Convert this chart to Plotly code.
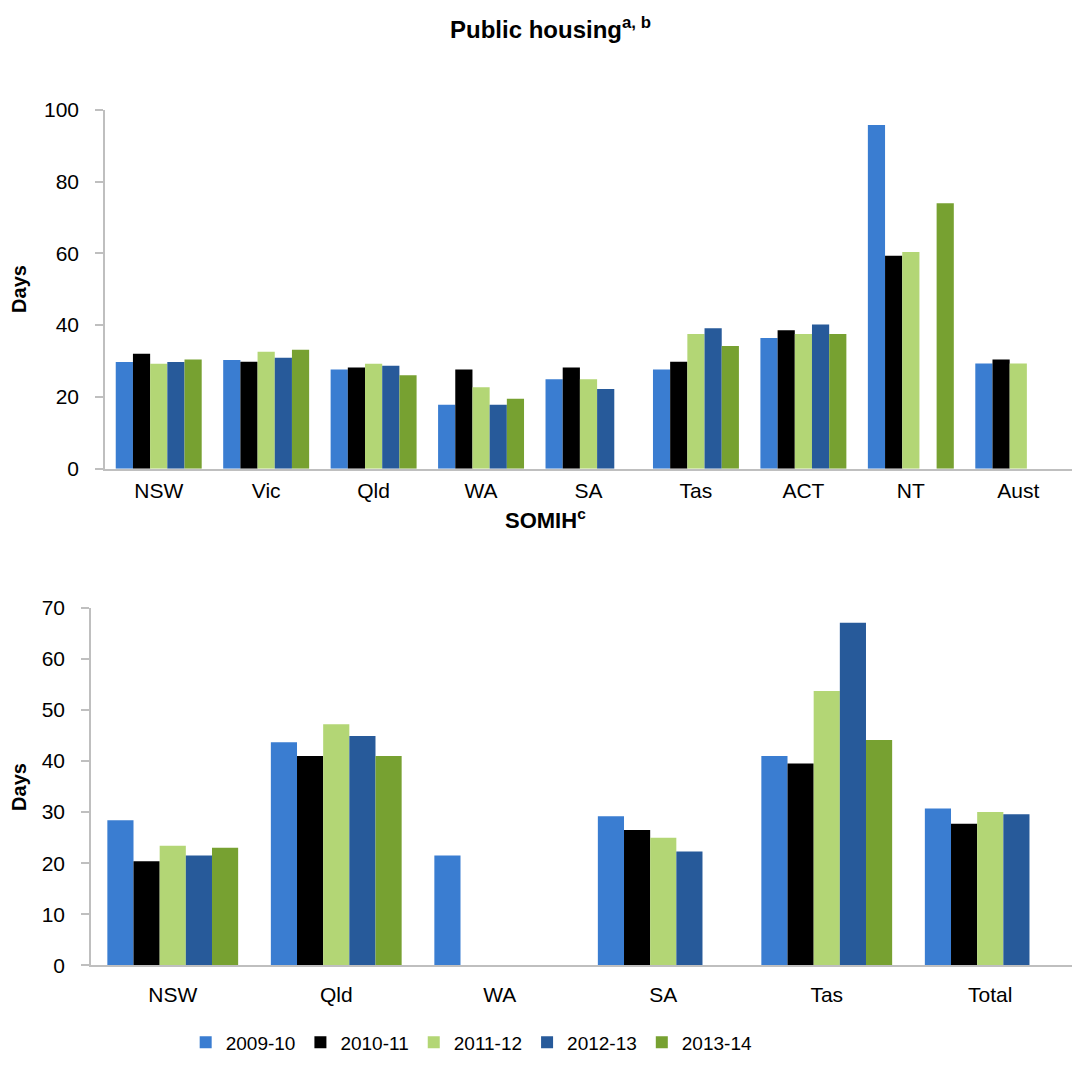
import plotly.graph_objects as go

# Public housing: average turnaround days by jurisdiction
ph_categories = ["NSW", "Vic", "Qld", "WA", "SA", "Tas", "ACT", "NT", "Aust"]
ph_2009_10 = [29.7, 30.3, 27.6, 17.8, 24.9, 27.6, 36.4, 95.8, 29.3]
ph_2010_11 = [32.0, 29.8, 28.2, 27.6, 28.2, 29.8, 38.6, 59.3, 30.4]
ph_2011_12 = [29.2, 32.6, 29.2, 22.7, 24.9, 37.5, 37.5, 60.4, 29.3]
ph_2012_13 = [29.7, 30.9, 28.7, 17.8, 22.2, 39.1, 40.2, None, None]
ph_2013_14 = [30.4, 33.1, 26.0, 19.5, None, 34.2, 37.5, 74.0, None]

# SOMIH: average turnaround days by jurisdiction
somih_categories = ["NSW", "Qld", "WA", "SA", "Tas", "Total"]
somih_2009_10 = [28.4, 43.7, 21.5, 29.2, 41.0, 30.7]
somih_2010_11 = [20.4, 41.0, None, 26.5, 39.5, 27.7]
somih_2011_12 = [23.4, 47.2, None, 25.0, 53.7, 30.0]
somih_2012_13 = [21.5, 44.9, None, 22.3, 67.1, 29.6]
somih_2013_14 = [23.0, 41.0, None, None, 44.1, None]

years = ["2009-10", "2010-11", "2011-12", "2012-13", "2013-14"]
colors = ["#3A7DD1", "#000000", "#B3D675", "#275A9A", "#77A131"]

ph_series = [ph_2009_10, ph_2010_11, ph_2011_12, ph_2012_13, ph_2013_14]
somih_series = [somih_2009_10, somih_2010_11, somih_2011_12, somih_2012_13, somih_2013_14]

FONT = "Arial, 'Liberation Sans', sans-serif"
W, H = 1072, 1067

fig = go.Figure()
for name, color, vals in zip(years, colors, ph_series):
    fig.add_trace(go.Bar(x=ph_categories, y=vals, name=name, marker_color=color,
                         marker_line_width=0, xaxis="x", yaxis="y",
                         legendgroup=name, showlegend=True))
for name, color, vals in zip(years, colors, somih_series):
    fig.add_trace(go.Bar(x=somih_categories, y=vals, name=name, marker_color=color,
                         marker_line_width=0, xaxis="x2", yaxis="y2",
                         legendgroup=name, showlegend=False))


def px_x(p):
    return p / W


def px_y(p):
    return 1 - p / H


axis_common = dict(showline=True, linecolor="#BFBFBF", linewidth=1.5,
                   showgrid=False, zeroline=False,
                   tickfont=dict(family=FONT, size=21, color="#000000"))

bold_title = dict(family=FONT, size=24, weight="bold", color="#000000")
bold_axis = dict(family=FONT, size=20, weight="bold", color="#000000")

fig.update_layout(
    width=W, height=H,
    margin=dict(l=0, r=0, t=0, b=0),
    paper_bgcolor="white", plot_bgcolor="white",
    barmode="group", bargap=0.2, bargroupgap=0,
    font=dict(family=FONT, color="#000000"),
    xaxis=dict(domain=[px_x(105), 1.0], anchor="y", ticks="",
               ticklabelstandoff=2, **axis_common),
    yaxis=dict(domain=[px_y(466.7), px_y(100)], anchor="x", range=[0, 100],
               tickvals=[0, 20, 40, 60, 80, 100], ticks="outside", ticklen=8,
               tickcolor="#BFBFBF", tickwidth=1.5, ticklabelstandoff=12,
               **axis_common),
    xaxis2=dict(domain=[px_x(91), 1.0], anchor="y2", ticks="",
                ticklabelstandoff=10, **axis_common),
    yaxis2=dict(domain=[px_y(974.3), px_y(609)], anchor="x2", range=[0, 70],
                tickvals=[0, 10, 20, 30, 40, 50, 60, 70], ticks="outside", ticklen=8,
                tickcolor="#BFBFBF", tickwidth=1.5, ticklabelstandoff=12,
                **axis_common),
    legend=dict(orientation="h", x=0.44, xanchor="center", y=px_y(1053), yanchor="middle",
                font=dict(family=FONT, size=19, color="#000000"),
                itemwidth=30, bgcolor="rgba(0,0,0,0)"),
    annotations=[
        dict(text="Public housing<sup>a, b</sup>", x=px_x(550), y=px_y(16),
             xanchor="center", yanchor="middle",
             xref="paper", yref="paper", showarrow=False, font=bold_title),
        dict(text="SOMIH<sup>c</sup>", x=px_x(545), y=px_y(518),
             xanchor="center", yanchor="middle",
             xref="paper", yref="paper", showarrow=False,
             font=dict(bold_title, size=22)),
        dict(text="Days", x=px_x(19), y=px_y(283), textangle=-90,
             xanchor="center", yanchor="middle",
             xref="paper", yref="paper", showarrow=False, font=bold_axis),
        dict(text="Days", x=px_x(19), y=px_y(792), textangle=-90,
             xanchor="center", yanchor="middle",
             xref="paper", yref="paper", showarrow=False, font=bold_axis),
    ],
)

fig.write_html("out.html")
